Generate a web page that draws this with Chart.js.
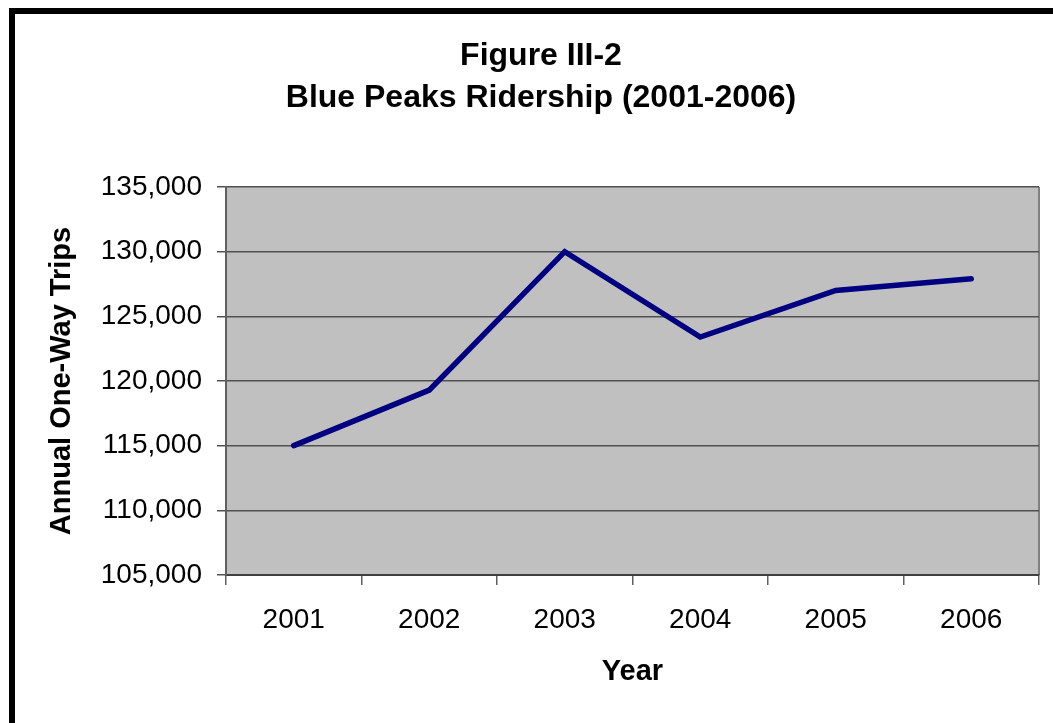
<!DOCTYPE html>
<html>
<head>
<meta charset="utf-8">
<title>Blue Peaks Ridership</title>
<script src="https://cdn.jsdelivr.net/npm/chart.js@4.4.1/dist/chart.umd.min.js"></script>
<style>
  html, body { margin: 0; padding: 0; background: #fff; }
  #wrap { position: relative; width: 1053px; height: 723px; overflow: hidden; }
  #frame {
    position: absolute; left: 9px; top: 8px; width: 1100px; height: 800px;
    border-top: 6px solid #000; border-left: 6px solid #000; box-sizing: border-box;
  }
  #ridership-chart { position: absolute; left: 0; top: 0; }
</style>
</head>
<body>
<div id="wrap">
  <canvas id="ridership-chart" width="1053" height="723"></canvas>
  <div id="frame"></div>
</div>
<script>
// chart data
const years = ['2001', '2002', '2003', '2004', '2005', '2006'];
const trips = [115000, 119300, 130000, 123400, 127000, 127900];
const yMin = 105000;
const yMax = 135000;
const yStep = 5000;
const titleLines = ['Figure III-2', 'Blue Peaks Ridership (2001-2006)'];

const FONT = "'Liberation Sans', Arial, sans-serif";
Chart.defaults.font.family = FONT;
Chart.defaults.color = '#000';

// grey plot area plus its right edge
const plotBackground = {
    id: 'plotBackground',
    beforeDraw(chart) {
        const { ctx, chartArea: a } = chart;
        ctx.save();
        ctx.fillStyle = '#c0c0c0';
        ctx.fillRect(a.left, a.top, a.right - a.left, a.bottom - a.top);
        ctx.strokeStyle = '#808080';
        ctx.lineWidth = 2;
        ctx.beginPath();
        ctx.moveTo(a.right, a.top);
        ctx.lineTo(a.right, a.bottom);
        ctx.stroke();
        ctx.restore();
    }
};

// two-line title, centred on the framed page rather than the canvas
const pageTitle = {
    id: 'pageTitle',
    afterDraw(chart) {
        const ctx = chart.ctx;
        ctx.save();
        ctx.fillStyle = '#000';
        ctx.font = "bold 32px " + FONT;
        ctx.textAlign = 'center';
        ctx.textBaseline = 'alphabetic';
        ctx.fillText(titleLines[0], 541, 65);
        ctx.fillText(titleLines[1], 541, 107);
        ctx.restore();
    }
};

function initializeChart() {
    const ctx = document.getElementById('ridership-chart').getContext('2d');
    return new Chart(ctx, {
        type: 'line',
        data: {
            labels: years,
            datasets: [{
                label: 'Annual One-Way Trips',
                data: trips,
                borderColor: '#000080',
                borderWidth: 5.5,
                borderCapStyle: 'round',
                pointRadius: 0,
                tension: 0
            }]
        },
        options: {
            responsive: false,
            animation: false,
            layout: { padding: { left: 0, right: 14, top: 187, bottom: 0 } },
            plugins: {
                legend: { display: false },
                tooltip: { enabled: false },
                title: { display: false }
            },
            scales: {
                x: {
                    offset: true,
                    grid: {
                        offset: true,
                        drawOnChartArea: false,
                        drawTicks: true,
                        tickLength: 10,
                        color: '#606060',
                        lineWidth: 1.5
                    },
                    border: { color: '#404040', width: 2 },
                    ticks: { color: '#000', font: { size: 28 }, padding: 18, maxRotation: 0 },
                    title: {
                        display: true,
                        text: 'Year',
                        color: '#000',
                        font: { size: 29, weight: 'bold' },
                        padding: { top: 0, bottom: 34 }
                    },
                    afterFit(scale) { scale.height = 148; }
                },
                y: {
                    min: yMin,
                    max: yMax,
                    grid: { color: '#505050', lineWidth: 1.5, tickLength: 9 },
                    border: { color: '#606060', width: 2 },
                    ticks: {
                        stepSize: yStep,
                        color: '#000',
                        font: { size: 28 },
                        padding: 15,
                        callback: v => v.toLocaleString('en-US')
                    },
                    title: {
                        display: true,
                        text: 'Annual One-Way Trips',
                        color: '#000',
                        font: { size: 29, weight: 'bold' },
                        padding: { top: 45, bottom: 0 }
                    },
                    afterFit(scale) { scale.width = 226; }
                }
            }
        },
        plugins: [plotBackground, pageTitle]
    });
}

initializeChart();
</script>
</body>
</html>
